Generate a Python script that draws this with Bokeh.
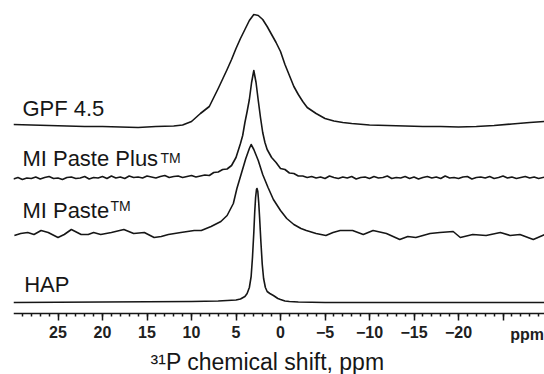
from bokeh.plotting import figure
from bokeh.models import Range1d, FixedTicker, Label, ColumnDataSource, LinearAxis
from bokeh.embed import file_html
from bokeh.resources import INLINE

# ---------------- data (chemical shift in ppm, intensity in a.u.) ----------------
GPF_X = [30, 28, 26, 24, 22, 20, 18, 16, 14, 12, 11, 10, 9, 8, 7, 6, 5.5, 5, 4.5, 4,
         3.5, 3, 2.5, 2, 1.5, 1, 0.5, 0, -0.5, -1, -1.5, -2, -2.5, -3, -4, -5, -6, -7,
         -8, -10, -12, -14, -16, -18, -20, -22, -24, -26, -28, -29.7]
GPF_I = [1, 0.5, 0, -0.5, -1, -1, -1.5, -2, -1, -0.5, 0.5, 4, 12, 19, 37, 56, 66, 77, 87, 96,
         105, 111, 110, 106, 99, 91, 83, 74, 61, 50, 39, 31, 24, 18, 12, 7, 4.5, 3,
         2, 0.5, 0, -0.5, -1, -1, -1.5, -1, 0, 1.5, 3, 4]

PLUS_X = [30, 29.5, 29, 28.5, 28, 27.5, 27, 26.5, 26, 25.5, 25, 24.5, 24, 23.5, 23, 22.5,
          22, 21.5, 21, 20.5, 20, 19.5, 19, 18.5, 18, 17.5, 17, 16.5, 16, 15.5, 15, 14.5,
          14, 13.5, 13, 12.5, 12, 11.5, 11, 10.5, 10, 9.5,
          9, 8.5, 8, 7.5, 7, 6.5, 6, 5.5, 5, 4.5, 4.25, 4, 3.75, 3.5, 3.25, 3, 2.75, 2.5,
          2.25, 2, 1.75, 1.5, 1.25, 1, 0.5, 0, -0.5, -1, -1.5, -2, -2.5, -3,
          -3.5, -4, -4.5, -5, -5.5, -6, -6.5, -7, -7.5, -8, -8.5, -9, -9.5, -10, -10.5,
          -11, -11.5, -12, -12.5, -13, -13.5, -14, -14.5, -15, -15.5, -16, -16.5, -17,
          -17.5, -18, -18.5, -19, -19.5, -20, -20.5, -21, -21.5, -22, -22.5, -23, -23.5,
          -24, -24.5, -25, -25.5, -26, -26.5, -27, -27.5, -28, -28.5, -29, -29.7]
PLUS_I = [-1.5, 0, -2, -0.5, -1, 0.5, -1.5, 0, 1, -1, -0.5, -2, 0, 0.5, -1, -0.5,
          1, -1.5, 0, -0.5, 1, -1, 1.5, -0.5, 0.5, -1, 1.5, 0, 0.5, -0.5, 1.5, 0.5,
          -0.5, 1, 2, 0, 1, 1.5, 0, 1, 2, 0.5,
          1.5, 2.5, 2, 5, 5.5, 8, 8.5, 12, 20, 34, 42, 55, 66, 78, 95, 107, 95, 77,
          60, 45, 35, 28, 24, 20, 15, 9, 8, 4.5, 4, 1.5, 1.5, 0,
          1, -0.5, 0.5, -1, 1.5, 0, -1, 0.5, -0.5, 1, -1.5, 0, 0.5, -1, 1,
          -0.5, 0, 1.5, -1, 0, -0.5, 1, -1, 0.5, -1.5, 0, 1, -0.5,
          0.5, -1, 1.5, -0.5, 0, -1, 0.5, 1, -1.5, 0, 0.5, -0.5,
          1, -1, 0, 1.5, -0.5, 0.5, -1, 0, 1, -0.5, 0.5, -1, 0.5]

PASTE_X = [29.9, 29.2, 28.4, 27.7, 26.9, 26.1, 25.0, 24.3, 23.5, 22.4, 21.6, 21.0, 20.2,
           19.0, 17.6, 16.5, 15.3, 14.2, 13.4, 12.6, 11.2, 9.7, 8.9, 7.8, 6.7, 6.0, 5.3,
           4.9, 4.4, 3.9, 3.5, 3.3, 3.0, 2.5, 2.0, 1.4, 0.8, 0.0, -0.7, -1.5, -2.3, -2.9,
           -4.0, -5.1, -5.9, -6.7, -8.1, -9.3, -10.4, -11.9, -13.4, -14.3, -15.2, -16.8,
           -17.9, -19.4, -20.2, -21.6, -23.1, -24.7, -25.8, -26.9, -28.4, -29.7]
PASTE_I = [-2, 0, 1, -1, 3, 1, -4, -1, 4, -1, -1, 1, -1,
           1, 4, 0, 1, -4, -3, -1, 1, 3, 3, 7, 12, 18, 30,
           45, 60, 75, 85, 89, 84, 73, 59, 46, 34, 23, 15, 9, 5, 3,
           0, -2, 1, 3, 3, -1, 3, 0, -6, -3, -4, 0,
           1, 2, -4, -1, -2, 1, -2, -1, -6, -1]

HAP_X = [30, 20, 10, 7, 5, 4.5, 4, 3.75, 3.5, 3.3, 3.15, 3.0, 2.9, 2.8, 2.7, 2.64, 2.55,
         2.45, 2.35, 2.2, 2.05, 1.9, 1.7, 1.5, 1.2, 0.8, 0.3, 0, -0.5, -1, -2, -5, -15, -29.7]
HAP_I = [0, 0.5, 1, 1.5, 2.5, 3.5, 6, 9, 15, 26, 45, 70, 90, 105, 113, 114, 111,
         100, 85, 60, 38, 24, 15, 11, 9, 7, 4, 3, 1.5, 1, 0.5, 0, 0, 0]

SERIES = ["GPF 4.5", "MI Paste Plus", "MI Paste", "HAP"]
TRADEMARK = [False, True, True, False]
OFFSETS = [188, 136, 80, 11]          # vertical stacking offsets (a.u.)

MAJOR_TICKS = [25, 20, 15, 10, 5, 0, -5, -10, -15, -20, -25]
MINOR_TICKS = list(range(29, -30, -1))
X_TITLE = "\u00b3\u00b9P chemical shift, ppm"
UNIT_LABEL = "ppm"

# ---------------- figure ----------------
FONT = "Liberation Sans"
INK = "#161616"

p = figure(width=544, height=374, output_backend="svg", toolbar_location=None,
           x_range=Range1d(30, -29.66), y_range=Range1d(-61, 313),
           min_border_left=13, min_border_right=0, min_border_top=0, min_border_bottom=0,
           x_axis_location=None, y_axis_location=None)
p.outline_line_color = None
p.grid.visible = False
p.background_fill_color = "white"
p.border_fill_color = "white"

traces = [(GPF_X, GPF_I), (PLUS_X, PLUS_I), (PASTE_X, PASTE_I), (HAP_X, HAP_I)]
for (xs, ys), off in zip(traces, OFFSETS):
    src = ColumnDataSource(dict(x=xs, y=[off + v for v in ys]))
    p.line("x", "y", source=src, line_color=INK, line_width=1.6, line_join="round")

# series labels
label_pos = [(29.0, 205), (29.0, 155), (29.0, 103), (28.8, 29)]
tm_pos = [None, (138, 155.5), (88, 107.5), None]
for name, tm, (lx, ly), tp in zip(SERIES, TRADEMARK, label_pos, tm_pos):
    p.add_layout(Label(x=lx, y=ly, text=name, text_font=FONT, text_font_size="22px",
                       text_color=INK, text_baseline="alphabetic", text_align="left"))
    if tm:
        p.add_layout(Label(x=lx, y=tp[1], x_offset=tp[0], text="TM", text_font=FONT,
                           text_font_size="14px", text_color=INK,
                           text_baseline="alphabetic", text_align="left"))

ax = LinearAxis(fixed_location=0)
ax.ticker = FixedTicker(ticks=MAJOR_TICKS, minor_ticks=MINOR_TICKS)
ax.major_label_overrides = {-25: ""}
ax.axis_line_color = INK
ax.axis_line_width = 1.5
ax.major_tick_line_color = INK
ax.major_tick_line_width = 1.5
ax.major_tick_in = 0
ax.major_tick_out = 7
ax.minor_tick_line_color = INK
ax.minor_tick_line_width = 1.5
ax.minor_tick_in = 0
ax.minor_tick_out = 3
ax.major_label_text_font = FONT
ax.major_label_text_font_size = "16px"
ax.major_label_text_font_style = "bold"
ax.major_label_text_color = "#202020"
ax.major_label_standoff = 5
p.add_layout(ax, "below")

p.add_layout(Label(x=-27.7, y=-21, text=UNIT_LABEL, text_font=FONT, text_font_size="16px",
                   text_font_style="bold", text_color="#202020",
                   text_baseline="alphabetic", text_align="center"))
p.add_layout(Label(x=1.46, y=-48, text=X_TITLE, text_font=FONT, text_font_size="23px",
                   text_color=INK, text_baseline="alphabetic", text_align="center"))

open("out.html", "w").write(file_html(p, INLINE))
